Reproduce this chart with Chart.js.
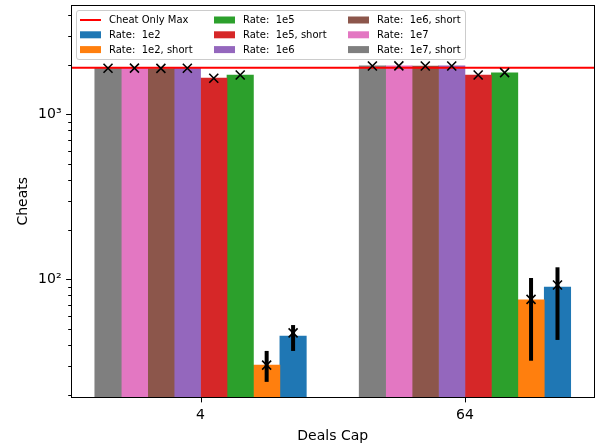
<!DOCTYPE html>
<html>
<head>
<meta charset="utf-8">
<script src="https://cdn.jsdelivr.net/npm/chart.js@4.4.1/dist/chart.umd.min.js"></script>
<style>
  html, body { margin: 0; padding: 0; background: #fff; }
  #wrap { width: 598px; height: 445px; }
</style>
</head>
<body>
<div id="wrap"><canvas id="chart" width="598" height="445"></canvas></div>
<script>
// Deals cap groups on the x axis
const caps = ["4", "64"];

// Series, in the order the bars sit inside each group (left to right)
const seriesNames = ["Rate:  1e7, short", "Rate:  1e7", "Rate:  1e6, short", "Rate:  1e6",
                     "Rate:  1e5, short", "Rate:  1e5", "Rate:  1e2, short", "Rate:  1e2"];
const seriesColors = ["#7f7f7f", "#e377c2", "#8c564b", "#9467bd",
                      "#d62728", "#2ca02c", "#ff7f0e", "#1f77b4"];

// Bar heights per series: [cap 4, cap 64]
const rate1e7Short = [1900, 1965];
const rate1e7 = [1905, 1968];
const rate1e6Short = [1890, 1960];
const rate1e6 = [1900, 1965];
const rate1e5Short = [1655, 1725];
const rate1e5 = [1730, 1785];
const rate1e2Short = [30.2, 75];
const rate1e2 = [45.3, 89.8];

// Mean markers (x) per series
const mean1e7Short = [1900, 1962];
const mean1e7 = [1902, 1965];
const mean1e6Short = [1895, 1960];
const mean1e6 = [1900, 1962];
const mean1e5Short = [1652, 1730];
const mean1e5 = [1730, 1787];
const mean1e2Short = [30.2, 75.5];
const mean1e2 = [47.3, 92.4];

// Error bar ranges (only the low-rate runs have visible spread)
const low1e2Short = [23.9, 32.1];
const high1e2Short = [36.8, 101.8];
const low1e2 = [36.8, 42.9];
const high1e2 = [52.8, 118.2];

// Upper bound from the cheat-only run
const cheatOnlyMax = 1915;

// Axis ticks
const yTickVals = [100, 1000];
const yTickLabels = ["10\u00b2", "10\u00b3"];
const yMin = 19.35, yMax = 4560;

const barValues = [rate1e7Short, rate1e7, rate1e6Short, rate1e6, rate1e5Short, rate1e5, rate1e2Short, rate1e2];
const meanValues = [mean1e7Short, mean1e7, mean1e6Short, mean1e6, mean1e5Short, mean1e5, mean1e2Short, mean1e2];
const lowValues = [null, null, null, null, null, null, low1e2Short, low1e2];
const highValues = [null, null, null, null, null, null, high1e2Short, high1e2];

const FONT = "DejaVu Sans";

const barDatasets = seriesNames.map((name, i) => ({
  type: "bar",
  label: name,
  data: caps.map((c, j) => ({ x: j, y: barValues[i][j] })),
  backgroundColor: seriesColors[i],
  borderWidth: 0,
  barThickness: 26.44,
  order: 2
}));

const maxLine = {
  type: "line",
  label: "Cheat Only Max",
  data: [{ x: -0.49, y: cheatOnlyMax }, { x: 1.49, y: cheatOnlyMax }],
  borderColor: "#ff0000",
  borderWidth: 2,
  pointRadius: 0,
  fill: false,
  order: 1
};

// error bars, mean markers, minor ticks, frame and the 3-column legend
const extras = {
  id: "extras",
  afterDatasetsDraw(chart) {
    const ctx = chart.ctx;
    const ys = chart.scales.y, xs = chart.scales.x;
    const a = chart.chartArea;
    ctx.save();

    for (let i = 0; i < seriesNames.length; i++) {
      const meta = chart.getDatasetMeta(i);
      meta.data.forEach((bar, j) => {
        const x = bar.x;
        if (lowValues[i]) {
          ctx.strokeStyle = "#000";
          ctx.lineWidth = 4;
          ctx.lineCap = "butt";
          ctx.beginPath();
          ctx.moveTo(x, ys.getPixelForValue(lowValues[i][j]));
          ctx.lineTo(x, ys.getPixelForValue(highValues[i][j]));
          ctx.stroke();
        }
        const my = ys.getPixelForValue(meanValues[i][j]);
        const r = 4.5;
        ctx.strokeStyle = "#000";
        ctx.lineWidth = 1.6;
        ctx.beginPath();
        ctx.moveTo(x - r, my - r); ctx.lineTo(x + r, my + r);
        ctx.moveTo(x - r, my + r); ctx.lineTo(x + r, my - r);
        ctx.stroke();
      });
    }

    // frame
    ctx.strokeStyle = "#000";
    ctx.lineWidth = 1;
    ctx.strokeRect(Math.floor(a.left) + 0.5, Math.floor(a.top) + 0.5,
                   Math.floor(a.right) - Math.floor(a.left), Math.floor(a.bottom) - Math.floor(a.top));

    // y ticks, major and minor
    ctx.beginPath();
    const left = Math.floor(a.left);
    for (const d of [10, 100, 1000]) {
      for (let k = 1; k <= 9; k++) {
        const v = d * k;
        if (v < yMin || v > yMax) continue;
        const py = Math.round(ys.getPixelForValue(v)) + 0.5;
        const len = k === 1 ? 4.9 : 2.8;
        ctx.moveTo(left - len, py);
        ctx.lineTo(left, py);
      }
    }
    // x ticks
    const bottom = Math.floor(a.bottom);
    caps.forEach((c, j) => {
      const px = Math.round(xs.getPixelForValue(j)) + 0.5;
      ctx.moveTo(px, bottom);
      ctx.lineTo(px, bottom + 5.4);
    });
    ctx.stroke();
    ctx.restore();
  },
  afterDraw(chart) {
    const ctx = chart.ctx;
    ctx.save();
    // legend box
    const bx = 76.5, by = 10.5, bw = 389, bh = 49, rad = 2.5;
    ctx.beginPath();
    ctx.roundRect(bx, by, bw, bh, rad);
    ctx.fillStyle = "rgba(255,255,255,0.8)";
    ctx.fill();
    ctx.strokeStyle = "#cccccc";
    ctx.lineWidth = 1;
    ctx.stroke();

    const entries = [{ label: maxLine.label, color: maxLine.borderColor, line: true }];
    for (let i = seriesNames.length - 1; i >= 0; i--) {
      entries.push({ label: seriesNames[i], color: seriesColors[i], line: false });
    }
    const colX = [80, 214, 348];
    const rowY = [20, 34.8, 49.6];
    ctx.font = "10px '" + FONT + "'";
    ctx.textBaseline = "middle";
    ctx.textAlign = "left";
    entries.forEach((e, n) => {
      const cx = colX[Math.floor(n / 3)];
      const cy = rowY[n % 3];
      if (e.line) {
        ctx.strokeStyle = e.color;
        ctx.lineWidth = 2;
        ctx.beginPath();
        ctx.moveTo(cx, cy);
        ctx.lineTo(cx + 21, cy);
        ctx.stroke();
      } else {
        ctx.fillStyle = e.color;
        ctx.fillRect(cx, cy - 3.5, 21, 7);
      }
      ctx.fillStyle = "#000";
      ctx.fillText(e.label, cx + 29, cy + 0.5);
    });
    ctx.restore();
  }
};

new Chart(document.getElementById("chart"), {
  data: { datasets: [...barDatasets, maxLine] },
  options: {
    responsive: false,
    animation: false,
    events: [],
    layout: { padding: { left: 0, top: 5.5, right: 3.5, bottom: 0 } },
    plugins: { legend: { display: false }, tooltip: { enabled: false } },
    scales: {
      x: {
        type: "linear",
        min: -0.49,
        max: 1.49,
        offset: false,
        afterBuildTicks: s => { s.ticks = caps.map((c, j) => ({ value: j })); },
        afterFit: s => { s.height = 48; s.paddingLeft = 0; s.paddingRight = 0; },
        grid: { display: false, drawTicks: false, offset: false },
        border: { display: false },
        ticks: {
          autoSkip: false,
          maxRotation: 0,
          color: "#000",
          padding: 10.1,
          font: { family: FONT, size: 14 },
          callback: v => caps[v]
        },
        title: {
          display: true,
          text: "Deals Cap",
          color: "#000",
          font: { family: FONT, size: 14 },
          padding: { top: 0, bottom: 0 }
        }
      },
      y: {
        type: "logarithmic",
        min: yMin,
        max: yMax,
        afterBuildTicks: s => { s.ticks = yTickVals.map(v => ({ value: v })); },
        afterFit: s => { s.width = 71; s.paddingTop = 0; s.paddingBottom = 0; },
        grid: { display: false, drawTicks: false },
        border: { display: false },
        ticks: {
          autoSkip: false,
          color: "#000",
          padding: 9.5,
          font: { family: FONT, size: 14 },
          callback: v => { const k = yTickVals.indexOf(v); return k >= 0 ? yTickLabels[k] : ""; }
        },
        title: {
          display: true,
          text: "Cheats",
          color: "#000",
          font: { family: FONT, size: 14 },
          padding: { top: 14.6, bottom: 0 }
        }
      }
    }
  },
  plugins: [extras]
});
</script>
</body>
</html>
